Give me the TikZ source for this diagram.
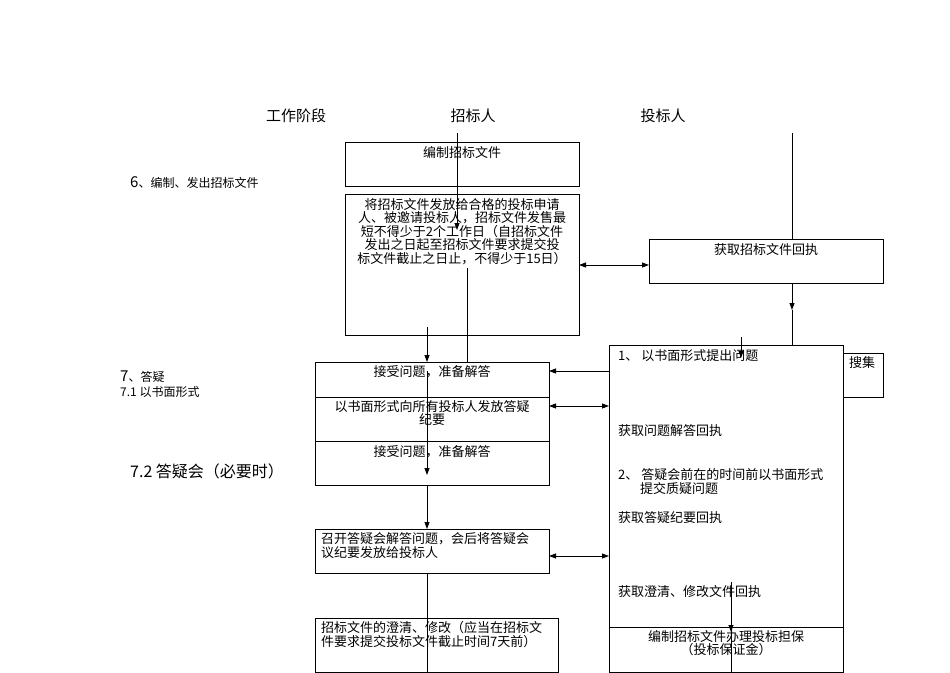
\documentclass[tikz,border=0pt]{standalone}
\usepackage{fontspec}
\setmainfont{Liberation Serif}
\newfontfamily\cjk{Noto Sans CJK SC}
\usetikzlibrary{arrows.meta}
\begin{document}
\begin{tikzpicture}[x=1pt,y=-1pt,
  box/.style={draw,line width=0.8pt},
  txt/.style={font=\cjk\fontsize{13}{13.5}\selectfont,inner sep=0pt,align=center},
  ltxt/.style={font=\cjk\fontsize{13}{14.5}\selectfont,inner sep=0pt,anchor=north west,align=left},
  arr/.style={-{Triangle[length=7pt,width=5pt]},line width=0.8pt},
  darr/.style={{Triangle[length=7pt,width=5pt]}-{Triangle[length=7pt,width=5pt]},line width=0.8pt},
  ln/.style={line width=0.8pt}]
\useasboundingbox (0,0) rectangle (950,672);
% headings
\node[txt,font=\cjk\fontsize{15}{16}\selectfont] (h1) at (296,116) {工作阶段};
\node[txt,font=\cjk\fontsize{15}{16}\selectfont] (h2) at (473,116) {招标人};
\node[txt,font=\cjk\fontsize{15}{16}\selectfont] (h3) at (663,116) {投标人};
\node[ltxt,anchor=west,font=\cjk\fontsize{12}{14}\selectfont] (s6) at (130,183) {{\fontsize{15}{14}\selectfont 6}、编制、发出招标文件};
\node[ltxt,anchor=west,font=\cjk\fontsize{12}{14}\selectfont] (s7) at (120,377) {{\fontsize{15}{14}\selectfont 7}、答疑};
\node[ltxt,anchor=west,font=\cjk\fontsize{12}{14}\selectfont] (s71) at (120,392) {7.1 以书面形式};
\node[ltxt,anchor=west,font=\cjk\fontsize{16}{18}\selectfont] (s72) at (130,471) {7.2 答疑会（必要时）};
% boxes
\draw[box] (345,142) rectangle (579,186);
\node[txt,anchor=north] (b1) at (462,146) {编制招标文件};
\draw[box] (345,194) rectangle (579,335);
\node[txt,anchor=north] (b2) at (462,198) {将招标文件发放给合格的投标申请\\人、被邀请投标人，招标文件发售最\\短不得少于2个工作日（自招标文件\\发出之日起至招标文件要求提交投\\标文件截止之日止，不得少于15日）};
\draw[box] (649,239) rectangle (883,283);
\node[txt,anchor=north] (b3) at (766,243) {获取招标文件回执};
\draw[box] (315,362) rectangle (549,397);
\node[txt,anchor=north] (c1) at (432,365) {接受问题，准备解答};
\draw[box] (315,397) rectangle (549,441);
\node[txt,anchor=north] (c2) at (432,400) {以书面形式向所有投标人发放答疑\\纪要};
\draw[box] (315,441) rectangle (549,485);
\node[txt,anchor=north] (c3) at (432,445) {接受问题，准备解答};
\draw[box] (315,529) rectangle (549,573);
\node[ltxt] (c4) at (321,532) {召开答疑会解答问题，会后将答疑会\\议纪要发放给投标人};
\draw[box] (315,618) rectangle (558,672);
\node[ltxt] (c5) at (321,621) {招标文件的澄清、修改（应当在招标文\\件要求提交投标文件截止时间7天前）};
\draw[box] (609,345) rectangle (843,627);
\draw[box] (609,627) rectangle (843,672);
\draw[box] (843,353) rectangle (883,397);
\node[ltxt] (r0) at (849,356) {搜集};
\node[ltxt] (r1) at (618,349) {1、 以书面形式提出问题};
\node[ltxt] (r2) at (618,424) {获取问题解答回执};
\node[ltxt] (r3) at (618,468) {2、 答疑会前在的时间前以书面形式\\\hspace*{22pt}提交质疑问题};
\node[ltxt] (r4) at (618,511) {获取答疑纪要回执};
\node[ltxt] (r5) at (618,585) {获取澄清、修改文件回执};
\node[txt,anchor=north] (r6) at (726,630) {编制招标文件办理投标担保\\（投标保证金）};
% connectors
\coordinate (t1) at (457,133); \coordinate (t1e) at (457,230);
\draw[arr] (t1) -- (t1e);
\coordinate (v2a) at (467,268); \coordinate (v2b) at (467,362);
\draw[ln] (v2a) -- (v2b);
\coordinate (v3a) at (427,327); \coordinate (v3b) at (427,362);
\draw[arr] (v3a) -- (v3b);
\coordinate (d1a) at (579,265); \coordinate (d1b) at (649,265);
\draw[darr] (d1a) -- (d1b);
\coordinate (v4a) at (792,133); \coordinate (v4b) at (792,239);
\draw[ln] (v4a) -- (v4b);
\coordinate (v5a) at (792,283); \coordinate (v5b) at (792,310); \coordinate (v5c) at (792,345);
\draw[arr] (v5a) -- (v5b); \draw[ln] (v5b) -- (v5c);
\coordinate (v6a) at (741,337); \coordinate (v6b) at (741,358);
\draw[arr] (v6a) -- (v6b);
\coordinate (a1a) at (609,371); \coordinate (a1b) at (549,371);
\draw[arr] (a1a) -- (a1b);
\coordinate (d2a) at (549,406); \coordinate (d2b) at (609,406);
\draw[darr] (d2a) -- (d2b);
\coordinate (v7a) at (427,371); \coordinate (v7b) at (427,475);
\draw[arr] (v7a) -- (v7b);
\coordinate (v8a) at (427,485); \coordinate (v8b) at (427,529);
\draw[arr] (v8a) -- (v8b);
\coordinate (d3a) at (549,556); \coordinate (d3b) at (609,556);
\draw[darr] (d3a) -- (d3b);
\coordinate (v9a) at (427,573); \coordinate (v9b) at (427,672);
\draw[ln] (v9a) -- (v9b);
\coordinate (v10a) at (731,582); \coordinate (v10b) at (731,632); \coordinate (v10c) at (731,672);
\draw[arr] (v10a) -- (v10b); \draw[ln] (v10b) -- (v10c);
\end{tikzpicture}
\end{document}
